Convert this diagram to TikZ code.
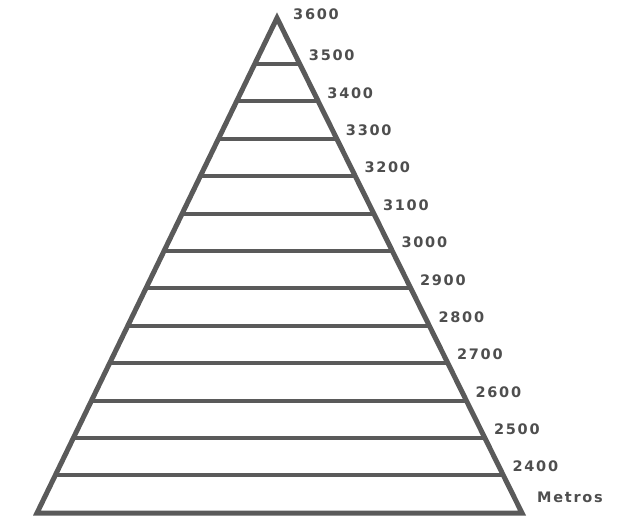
\documentclass[tikz,border=0pt]{standalone}
\usepackage{fontspec}
\newfontfamily\altfont{DejaVu Sans}[LetterSpace=12]
\usepackage{tikz}
\usetikzlibrary{calc}
\definecolor{pyrgray}{RGB}{90, 90, 90}
\definecolor{pyrtext}{RGB}{78, 78, 78}

\begin{document}
\begin{tikzpicture}[x=1pt, y=-1pt, line join=miter,
    rung/.style={pyrgray, line width=4pt},
    alt/.style={anchor=south west, inner sep=0pt, xshift=9pt, yshift=3pt,
      font=\altfont\bfseries\fontsize{14.5}{14.5}\selectfont, text=pyrtext}]

  \useasboundingbox (0,0) rectangle (625,517);

  % --- outline of the pyramid ---
  \coordinate (apex) at (277,18);
  \coordinate (baseL) at (37,513);
  \coordinate (baseR) at (522,513);

  % --- height rungs, every 100 m ---
  \draw[rung] ($(apex)!0.0929!(baseL)$) coordinate (l1) -- ($(apex)!0.0929!(baseR)$) coordinate (r1);
  \draw[rung] ($(apex)!0.1685!(baseL)$) coordinate (l2) -- ($(apex)!0.1685!(baseR)$) coordinate (r2);
  \draw[rung] ($(apex)!0.2440!(baseL)$) coordinate (l3) -- ($(apex)!0.2440!(baseR)$) coordinate (r3);
  \draw[rung] ($(apex)!0.3196!(baseL)$) coordinate (l4) -- ($(apex)!0.3196!(baseR)$) coordinate (r4);
  \draw[rung] ($(apex)!0.3952!(baseL)$) coordinate (l5) -- ($(apex)!0.3952!(baseR)$) coordinate (r5);
  \draw[rung] ($(apex)!0.4707!(baseL)$) coordinate (l6) -- ($(apex)!0.4707!(baseR)$) coordinate (r6);
  \draw[rung] ($(apex)!0.5463!(baseL)$) coordinate (l7) -- ($(apex)!0.5463!(baseR)$) coordinate (r7);
  \draw[rung] ($(apex)!0.6218!(baseL)$) coordinate (l8) -- ($(apex)!0.6218!(baseR)$) coordinate (r8);
  \draw[rung] ($(apex)!0.6974!(baseL)$) coordinate (l9) -- ($(apex)!0.6974!(baseR)$) coordinate (r9);
  \draw[rung] ($(apex)!0.7729!(baseL)$) coordinate (l10) -- ($(apex)!0.7729!(baseR)$) coordinate (r10);
  \draw[rung] ($(apex)!0.8485!(baseL)$) coordinate (l11) -- ($(apex)!0.8485!(baseR)$) coordinate (r11);
  \draw[rung] ($(apex)!0.9240!(baseL)$) coordinate (l12) -- ($(apex)!0.9240!(baseR)$) coordinate (r12);

  \draw[pyrgray, line width=5pt] (baseL) -- (apex) -- (baseR) -- cycle;

  % --- altitude labels ---
  \node[alt, anchor=west, xshift=7pt, yshift=1pt] (h3600) at (apex) {3600};
  \node[alt] (h3500) at (r1) {3500};
  \node[alt] (h3400) at (r2) {3400};
  \node[alt] (h3300) at (r3) {3300};
  \node[alt] (h3200) at (r4) {3200};
  \node[alt] (h3100) at (r5) {3100};
  \node[alt] (h3000) at (r6) {3000};
  \node[alt] (h2900) at (r7) {2900};
  \node[alt] (h2800) at (r8) {2800};
  \node[alt] (h2700) at (r9) {2700};
  \node[alt] (h2600) at (r10) {2600};
  \node[alt] (h2500) at (r11) {2500};
  \node[alt] (h2400) at (r12) {2400};
  \node[alt, xshift=6pt, yshift=7pt] (metros) at (baseR) {Metros};

\end{tikzpicture}
\end{document}
